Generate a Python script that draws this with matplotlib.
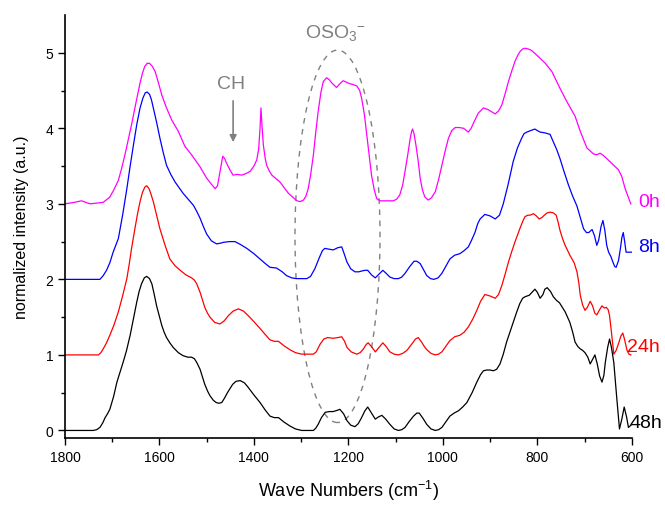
import matplotlib
matplotlib.use('Agg')
import matplotlib.pyplot as plt
from matplotlib.patches import Ellipse

plt.rcParams['font.family'] = ['Liberation Sans', 'DejaVu Sans']
plt.rcParams['mathtext.fontset'] = 'custom'
plt.rcParams['mathtext.rm'] = 'Liberation Sans'
plt.rcParams['mathtext.default'] = 'regular'

# 48h (black)
wn_48 = [1800, 1740, 1733, 1726, 1720, 1715, 1710, 1705, 1697, 1690, 1683, 1677, 1670, 1662, 1655,
         1648, 1643, 1638, 1632, 1627, 1621, 1616, 1611, 1606, 1600, 1595, 1590, 1585, 1578, 1571,
         1560, 1550, 1540, 1532, 1526, 1521, 1514, 1504, 1498, 1493, 1486, 1480, 1474, 1468, 1462,
         1456, 1451, 1445, 1438, 1429, 1420, 1412, 1400, 1387, 1376, 1366, 1357, 1348, 1336, 1324,
         1312, 1299, 1274, 1269, 1264, 1257, 1249, 1240, 1232, 1222, 1218, 1210, 1203, 1195, 1186,
         1179, 1172, 1165, 1159, 1152, 1143, 1136, 1129, 1121, 1112, 1103, 1094, 1087, 1080, 1071,
         1062, 1055, 1050, 1042, 1034, 1025, 1016, 1009, 1002, 994, 985, 976, 967, 958, 949, 938,
         928, 920, 914, 907, 900, 893, 886, 879, 872, 865, 858, 851, 844, 837, 831, 826, 817, 811,
         805, 800, 794, 788, 784, 779, 772, 766, 759, 753, 747, 741, 736, 731, 725, 720, 714, 709,
         704, 699, 693, 688, 683, 678, 673, 668, 663, 659, 656, 651, 647, 643, 638, 632, 626, 621,
         616, 611, 607, 600]
ab_48 = [0.0, 0.0, 0.01, 0.04, 0.10, 0.17, 0.22, 0.28, 0.45, 0.64, 0.78, 0.90, 1.05, 1.26, 1.48,
         1.70, 1.84, 1.94, 2.02, 2.04, 2.01, 1.94, 1.80, 1.65, 1.51, 1.39, 1.30, 1.23, 1.16, 1.10,
         1.03, 0.99, 0.97, 0.97, 0.95, 0.90, 0.81, 0.61, 0.52, 0.46, 0.40, 0.37, 0.36, 0.37, 0.43,
         0.50, 0.55, 0.61, 0.65, 0.66, 0.63, 0.57, 0.47, 0.37, 0.27, 0.19, 0.17, 0.17, 0.11, 0.06,
         0.02, 0.0, 0.0, 0.03, 0.08, 0.17, 0.24, 0.25, 0.25, 0.27, 0.28, 0.22, 0.13, 0.07, 0.05,
         0.09, 0.17, 0.26, 0.31, 0.24, 0.15, 0.18, 0.20, 0.15, 0.08, 0.02, 0.0, 0.01, 0.04, 0.12,
         0.19, 0.23, 0.23, 0.16, 0.08, 0.02, 0.0, 0.01, 0.04, 0.11, 0.19, 0.23, 0.26, 0.31, 0.37, 0.50,
         0.64, 0.74, 0.79, 0.80, 0.80, 0.79, 0.81, 0.88, 1.01, 1.17, 1.30, 1.43, 1.56, 1.68, 1.75, 1.77,
         1.79, 1.83, 1.87, 1.83, 1.75, 1.80, 1.87, 1.89, 1.84, 1.77, 1.72, 1.69, 1.63, 1.57, 1.50,
         1.43, 1.30, 1.17, 1.11, 1.08, 1.06, 1.03, 0.97, 0.88, 0.94, 1.00, 0.88, 0.72, 0.64, 0.73,
         0.90, 1.10, 1.21, 1.10, 0.90, 0.45, 0.02, 0.15, 0.31, 0.18, 0.04, 0.08]

# 24h (red)
wn_24 = [1800, 1729, 1724, 1719, 1712, 1705, 1696, 1687, 1678, 1669, 1664, 1659, 1652, 1646, 1641,
         1636, 1631, 1627, 1622, 1618, 1613, 1606, 1599, 1588, 1578, 1567, 1556, 1544, 1532, 1526,
         1521, 1514, 1504, 1498, 1493, 1483, 1472, 1463, 1454, 1444, 1433, 1422, 1412, 1400, 1387,
         1376, 1366, 1357, 1348, 1336, 1324, 1312, 1299, 1274, 1268, 1260, 1252, 1244, 1232, 1222,
         1214, 1208, 1203, 1194, 1182, 1175, 1168, 1162, 1158, 1151, 1143, 1135, 1127, 1120, 1112,
         1103, 1094, 1085, 1076, 1065, 1058, 1052, 1045, 1038, 1034, 1025, 1016, 1009, 1002, 994,
         985, 975, 964, 955, 946, 937, 928, 920, 911, 900, 889, 882, 875, 868, 861, 854, 847, 837,
         830, 826, 820, 815, 808, 802, 796, 790, 785, 779, 773, 766, 760, 756, 752, 746, 741, 731,
         722, 716, 712, 709, 704, 699, 694, 688, 683, 678, 674, 668, 663, 658, 654, 650, 647, 643,
         638, 633, 628, 623, 619, 615, 610, 606, 602]
ab_24 = [1.0, 1.0, 1.03, 1.08, 1.16, 1.26, 1.40, 1.57, 1.78, 2.01, 2.20, 2.41, 2.67, 2.88, 3.03,
         3.15, 3.22, 3.24, 3.20, 3.13, 3.03, 2.85, 2.67, 2.45, 2.27, 2.18, 2.12, 2.06, 2.02, 1.99,
         1.94, 1.83, 1.63, 1.55, 1.50, 1.43, 1.41, 1.45, 1.52, 1.58, 1.61, 1.58, 1.52, 1.44, 1.35,
         1.27, 1.20, 1.18, 1.18, 1.12, 1.07, 1.03, 1.01, 1.01, 1.04, 1.14, 1.21, 1.23, 1.22, 1.23,
         1.24, 1.18, 1.10, 1.04, 1.01, 1.03, 1.08, 1.14, 1.16, 1.11, 1.04, 1.10, 1.16, 1.11, 1.04,
         1.01, 1.00, 1.02, 1.06, 1.15, 1.21, 1.23, 1.17, 1.10, 1.07, 1.02, 1.00, 1.01, 1.04, 1.11,
         1.19, 1.24, 1.26, 1.30, 1.37, 1.47, 1.59, 1.71, 1.80, 1.78, 1.75, 1.80, 1.92, 2.07, 2.23, 2.37,
         2.50, 2.67, 2.78, 2.83, 2.85, 2.85, 2.87, 2.84, 2.80, 2.82, 2.85, 2.88, 2.89, 2.88, 2.85,
         2.76, 2.65, 2.53, 2.45, 2.32, 2.22, 2.10, 1.95, 1.79, 1.66, 1.59, 1.63, 1.71, 1.65, 1.55,
         1.53, 1.60, 1.65, 1.62, 1.63, 1.60, 1.52, 1.30, 1.01, 1.06, 1.15, 1.25, 1.29, 1.20, 1.06,
         1.01, 1.0]

# 8h (blue)
wn_8 = [1800, 1726, 1719, 1712, 1705, 1698, 1692, 1687, 1678, 1669, 1662, 1655, 1648, 1641, 1635,
        1630, 1626, 1621, 1617, 1613, 1606, 1599, 1592, 1585, 1576, 1567, 1558, 1550, 1539, 1528,
        1521, 1514, 1507, 1500, 1490, 1479, 1470, 1465, 1452, 1440, 1428, 1415, 1400, 1387, 1376,
        1366, 1352, 1340, 1331, 1320, 1310, 1288, 1280, 1271, 1262, 1255, 1250, 1241, 1232, 1222,
        1214, 1210, 1203, 1195, 1186, 1178, 1172, 1165, 1159, 1151, 1143, 1135, 1127, 1120, 1112,
        1103, 1094, 1087, 1080, 1070, 1061, 1055, 1048, 1040, 1034, 1026, 1019, 1010, 1002, 994,
        985, 975, 964, 955, 946, 939, 932, 926, 921, 911, 900, 889, 880, 872, 862, 851, 842, 833,
        828, 822, 814, 805, 800, 794, 784, 773, 766, 759, 752, 743, 734, 725, 716, 709, 702, 696,
        691, 684, 679, 674, 670, 665, 661, 657, 653, 649, 644, 640, 636, 633, 628, 624, 621, 618,
        615, 612, 600]
ab_8 = [2.0, 2.0, 2.05, 2.12, 2.22, 2.36, 2.46, 2.54, 2.85, 3.20, 3.50, 3.78, 4.05, 4.27, 4.40,
        4.47, 4.48, 4.45, 4.38, 4.27, 4.08, 3.87, 3.68, 3.51, 3.39, 3.29, 3.21, 3.14, 3.06, 2.98,
        2.90, 2.81, 2.70, 2.60, 2.51, 2.47, 2.48, 2.49, 2.50, 2.50, 2.46, 2.41, 2.34, 2.27, 2.21,
        2.16, 2.15, 2.10, 2.05, 2.02, 2.01, 2.01, 2.04, 2.14, 2.28, 2.38, 2.41, 2.40, 2.39, 2.42,
        2.43, 2.36, 2.23, 2.14, 2.10, 2.10, 2.11, 2.12, 2.12, 2.06, 2.02, 2.07, 2.12, 2.08, 2.03,
        2.01, 2.01, 2.03, 2.08, 2.17, 2.24, 2.24, 2.21, 2.12, 2.05, 2.01, 2.00, 2.02, 2.08, 2.17,
        2.27, 2.32, 2.34, 2.38, 2.43, 2.52, 2.62, 2.74, 2.80, 2.86, 2.84, 2.80, 2.85, 3.00, 3.25,
        3.56, 3.74, 3.87, 3.93, 3.95, 3.97, 3.99, 3.97, 3.95, 3.94, 3.92, 3.82, 3.72, 3.60, 3.42,
        3.25, 3.10, 2.97, 2.82, 2.67, 2.62, 2.62, 2.66, 2.58, 2.45, 2.52, 2.70, 2.78, 2.65, 2.45,
        2.36, 2.30, 2.23, 2.17, 2.16, 2.25, 2.41, 2.55, 2.62, 2.50, 2.36, 2.36]

# 0h (magenta)
wn_0 = [1800, 1780, 1765, 1747, 1719, 1705, 1697, 1687, 1680, 1673, 1666, 1659, 1650, 1641, 1636,
        1631, 1626, 1621, 1615, 1609, 1602, 1595, 1585, 1574, 1560, 1546, 1532, 1514, 1500, 1490,
        1482, 1477, 1472, 1466, 1462, 1458, 1450, 1444, 1435, 1426, 1417, 1408, 1400, 1394, 1390,
        1387, 1385, 1383, 1380, 1376, 1373, 1367, 1362, 1345, 1327, 1309, 1302, 1295, 1290, 1285,
        1280, 1274, 1269, 1264, 1258, 1253, 1246, 1240, 1235, 1225, 1218, 1211, 1204, 1197, 1190,
        1182, 1176, 1172, 1166, 1161, 1156, 1151, 1145, 1140, 1133, 1105, 1098, 1091, 1085, 1080,
        1074, 1069, 1066, 1064, 1061, 1057, 1052, 1048, 1043, 1038, 1031, 1024, 1016, 1009, 1002,
        995, 988, 981, 974, 965, 956, 950, 946, 940, 935, 925, 914, 905, 897, 889, 882, 875, 868,
        861, 854, 847, 841, 836, 831, 826, 819, 812, 798, 783, 769, 752, 738, 720, 709, 695, 681,
        674, 667, 660, 653, 638, 628, 621, 614, 608, 602]
ab_0 = [3.0, 3.02, 3.04, 3.0, 3.02, 3.09, 3.18, 3.31, 3.47, 3.65, 3.85, 4.05, 4.33, 4.60, 4.73,
        4.82, 4.86, 4.86, 4.82, 4.75, 4.60, 4.44, 4.27, 4.11, 3.96, 3.76, 3.65, 3.49, 3.34, 3.26,
        3.20, 3.24, 3.42, 3.63, 3.60, 3.54, 3.44, 3.38, 3.39, 3.38, 3.40, 3.43, 3.50, 3.58, 3.72,
        4.00, 4.27, 4.05, 3.78, 3.60, 3.51, 3.43, 3.38, 3.29, 3.14, 3.04, 3.03, 3.05, 3.10, 3.20,
        3.38, 3.65, 3.95, 4.22, 4.48, 4.62, 4.67, 4.64, 4.60, 4.54, 4.59, 4.63, 4.61, 4.59, 4.58,
        4.56, 4.50, 4.40, 4.18, 3.91, 3.63, 3.38, 3.18, 3.07, 3.04, 3.04, 3.06, 3.12, 3.25, 3.43,
        3.66, 3.87, 3.96, 3.99, 3.93, 3.78, 3.56, 3.34, 3.18, 3.09, 3.05, 3.08, 3.16, 3.32, 3.51,
        3.70, 3.87, 3.97, 4.01, 4.01, 4.00, 3.97, 3.95, 4.00, 4.07, 4.20, 4.27, 4.25, 4.22, 4.19,
        4.23, 4.31, 4.46, 4.62, 4.76, 4.89, 4.97, 5.02, 5.05, 5.06, 5.05, 5.03, 4.95, 4.86, 4.75,
        4.53, 4.36, 4.16, 3.96, 3.74, 3.66, 3.65, 3.67, 3.64, 3.60, 3.51, 3.45, 3.36, 3.20, 3.10,
        3.0]

series = [
    (wn_0, ab_0, '#ff00ff', '0h', 586, 3.03),
    (wn_8, ab_8, '#0000ff', '8h', 586, 2.43),
    (wn_24, ab_24, '#ff0000', '24h', 609, 1.11),
    (wn_48, ab_48, 'black', '48h', 605, 0.10),
]

fig = plt.figure(figsize=(6.65, 5.06), dpi=100)
ax = fig.add_axes([0.0977, 0.1324, 0.8523, 0.836])

for wn, ab, col, lab, xl, yl in series:
    ax.plot(wn, ab, color=col, lw=0.9)
    ax.text(xl, yl, lab, color=col, fontsize=14, ha='left', va='center', clip_on=False)

ax.set_xlim(1800, 600)
ax.set_ylim(-0.1, 5.5)
ax.set_xticks(range(1800, 599, -200))
ax.set_xticks(range(1700, 599, -200), minor=True)
ax.set_yticks(range(0, 6))
ax.set_yticks([0.5, 1.5, 2.5, 3.5, 4.5], minor=True)
ax.tick_params(which='major', direction='out', length=5, width=1, labelsize=10)
ax.tick_params(which='minor', direction='out', length=3, width=1)
ax.spines['top'].set_visible(False)
ax.spines['right'].set_visible(False)
ax.spines['left'].set_linewidth(1.2)
ax.spines['bottom'].set_linewidth(1.2)

ax.set_xlabel('Wave Numbers (cm$^{-1}$)', fontsize=13, labelpad=10)
ax.set_ylabel('normalized intensity (a.u.)', fontsize=11.5, labelpad=12)

# annotations
gray = '#808080'
ax.add_patch(Ellipse((1223, 2.57), 180, 4.93, fill=False, ec=gray, lw=1.0, ls=(0, (4, 4))))
ax.text(1228, 5.27, 'OSO$_3$$^{-}$', color=gray, fontsize=14, ha='center', va='center')
ax.text(1448, 4.59, 'CH', color=gray, fontsize=14, ha='center', va='center')
ax.annotate('', xy=(1444, 3.78), xytext=(1444, 4.40),
            arrowprops=dict(arrowstyle='-|>', color=gray, lw=1.2, mutation_scale=10))

fig.savefig('out.png', dpi=100)
